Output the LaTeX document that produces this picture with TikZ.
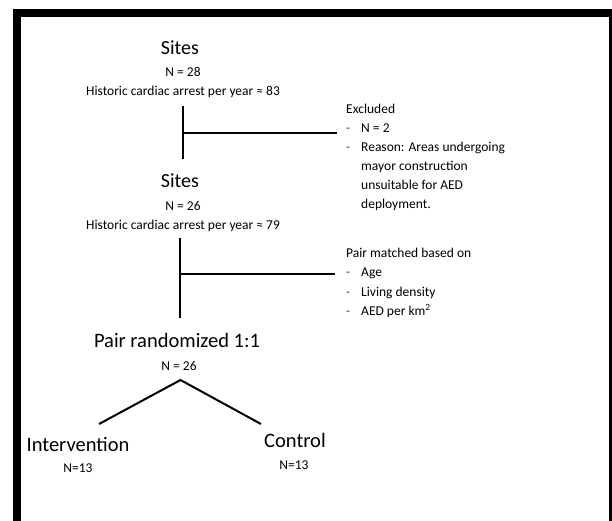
\documentclass[tikz,border=0pt]{standalone}
\usepackage{fontspec}
\setmainfont{Carlito}
\begin{document}
\begin{tikzpicture}[x=1pt,y=-1pt,
  title/.style={font=\fontsize{20}{24}\selectfont, inner sep=0pt, anchor=base},
  arm/.style={font=\fontsize{20.5}{24}\selectfont, inner sep=0pt, anchor=base},
  info/.style={font=\fontsize{13.5}{16}\selectfont, inner sep=0pt, anchor=base},
  note/.style={font=\fontsize{13.5}{16}\selectfont, inner sep=0pt, anchor=base west},
  bullet/.style={font=\fontsize{13.5}{16}\selectfont, inner sep=0pt, anchor=base west, text=black!70},
  link/.style={line width=2pt},
  frameline/.style={line width=8pt}]
\useasboundingbox (0,0) rectangle (612,520);
\fill[white] (0,0) rectangle (612,520);

% outer frame, running off the right and bottom edges
\begin{scope}
  \clip (0,0) rectangle (612,520);
  \draw[frameline] (17,13) rectangle (613,540);
\end{scope}

% first stage
\node[title] (sites1) at (180,54) {Sites};
\node[info] (n1) at (183,76) {N = 28};
\node[info] (hist1) at (183,95.5) {Historic cardiac arrest per year ≈ 83};

% exclusion note
\node[note] (excl) at (346,113) {Excluded};
\node[bullet] (exd1) at (346,132) {-};
\node[note] (ex1) at (361,132) {N = 2};
\node[bullet] (exd2) at (346,151) {-};
\node[note] (ex2) at (361,151) {Reason: Areas undergoing};
\node[note] (ex3) at (361,170) {mayor construction};
\node[note] (ex4) at (361,189.5) {unsuitable for AED};
\node[note] (ex5) at (361,208.5) {deployment.};

% second stage
\node[title] (sites2) at (180,187) {Sites};
\node[info] (n2) at (183,210) {N = 26};
\node[info] (hist2) at (183,229) {Historic cardiac arrest per year ≈ 79};

% matching note
\node[note] (match) at (346,257) {Pair matched based on};
\node[bullet] (md1) at (346,276.5) {-};
\node[note] (m1) at (361,276.5) {Age};
\node[bullet] (md2) at (346,296) {-};
\node[note] (m2) at (361,296) {Living density};
\node[bullet] (md3) at (346,315.5) {-};
\node[note] (m3) at (361,315.5) {AED per km\textsuperscript{2}};

% randomisation
\node[arm] (rand) at (177,347) {Pair randomized 1:1};
\node[info] (n3) at (179,370) {N = 26};

% arms
\node[arm] (interv) at (78,451) {Intervention};
\node[info] (n4) at (78,472) {N=13};
\node[arm] (ctrl) at (295,447) {Control};
\node[info] (n5) at (294,469) {N=13};

% connector ends
\coordinate (a1) at (183,106);
\coordinate (a2) at (183,159);
\coordinate (b1) at (183,133);
\coordinate (b2) at (337,133);
\coordinate (c1) at (180,238);
\coordinate (c2) at (180,318);
\coordinate (d1) at (180,274);
\coordinate (d2) at (335,274);
\coordinate (apex) at (180.5,380);
\coordinate (lft) at (99,424);
\coordinate (rgt) at (261,424);

\draw[link] (a1) -- (a2);
\draw[link] (b1) -- (b2);
\draw[link] (c1) -- (c2);
\draw[link] (d1) -- (d2);
\draw[link] (lft) -- (apex) -- (rgt);
\end{tikzpicture}
\end{document}
